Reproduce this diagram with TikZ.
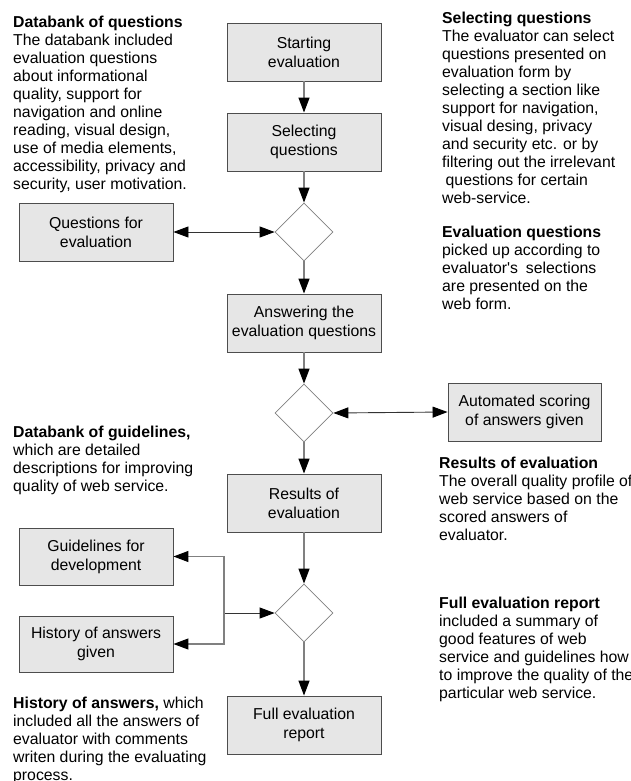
\documentclass[tikz,border=0pt]{standalone}
\usepackage{fontspec}
\setmainfont{Liberation Sans}[Ligatures=TeXOff]
\usetikzlibrary{shapes.geometric,arrows.meta}
\definecolor{boxfill}{HTML}{E6E6E6}
\definecolor{boxline}{HTML}{4D4D4D}
\definecolor{flowline}{HTML}{808080}
\tikzset{
  every node/.style={font=\fontsize{15.8}{19}\selectfont},
  procbox/.style={draw=boxline, line width=0.9pt, fill=boxfill, minimum width=154pt, minimum height=58pt, align=center, inner sep=0pt},
  decision/.style={diamond, draw=flowline, line width=0.8pt, fill=white, minimum width=58pt, minimum height=58pt, inner sep=0pt, aspect=1},
  note/.style={anchor=north west, align=left, inner sep=0pt, font=\fontsize{15.8}{18}\selectfont},
  flow/.style={draw=flowline, line width=1.3pt, ->},
  side/.style={draw=black!80, line width=0.9pt}
}
\begin{document}
\begin{tikzpicture}[x=1pt,y=-1pt,>={Triangle[length=15pt,width=11pt,color=black]}]
\useasboundingbox (0,0) rectangle (631,781);
% main column
\node[procbox] (start) at (304,52) {Starting\\evaluation};
\node[procbox] (select) at (304,142) {Selecting\\questions};
\node[decision] (d1) at (304,232) {};
\node[procbox] (answer) at (304,323) {Answering the\\evaluation questions};
\node[decision] (d2) at (304,413) {};
\node[procbox] (results) at (304,503) {Results of\\evaluation};
\node[decision] (d3) at (304,613) {};
\node[procbox] (full) at (304,725) {Full evaluation\\report};
% side boxes
\node[procbox] (qfe) at (96,232) {Questions for\\evaluation};
\node[procbox, minimum width=153pt] (auto) at (524.5,412) {Automated scoring\\of answers given};
\node[procbox, minimum height=57pt] (guide) at (96,556.5) {Guidelines for\\development};
\node[procbox, minimum height=56pt] (hist) at (96,644) {History of answers\\given};
% flow arrows
\draw[flow] (start) -- (select);
\draw[flow] (select) -- (d1);
\draw[flow] (d1) -- (answer);
\draw[flow] (answer) -- (d2);
\draw[flow] (d2) -- (results);
\draw[flow] (results) -- (d3);
\draw[flow] (d3) -- (full);
% side connectors
\draw[side, <->] (qfe.east) -- (d1.west);
\draw[side, <->] (d2.east) -- (auto.west);
\coordinate (junc) at (224,613);
\draw[side, ->] (junc) -- (d3.west);
\draw[draw=flowline, line width=1.1pt, ->] (junc) |- (guide.east);
\draw[draw=flowline, line width=1.1pt, ->] (junc) |- (hist.east);
% notes
\node[note] (n1) at (13,16) {\textbf{Databank of questions}\\The databank included\\evaluation questions\\about informational\\quality, support for\\navigation and online\\reading, visual design,\\use of media elements,\\accessibility, privacy and\\security, user motivation.};
\node[note] (n2) at (442,12) {\textbf{Selecting questions}\\The evaluator can select\\questions presented on\\evaluation form by\\selecting a section like\\support for navigation,\\visual desing, privacy\\and security etc. or by\\filtering out the irrelevant\\\hspace{3.5pt}questions for certain\\web-service.};
\node[note] (n3) at (442,226) {\textbf{Evaluation questions}\\picked up according to\\evaluator's\hspace{3.5pt} selections\\are presented on the\\web form.};
\node[note] (n4) at (13,426) {\textbf{Databank of guidelines,}\\which are detailed\\descriptions for improving\\quality of web service.};
\node[note] (n5) at (439,457) {\textbf{Results of evaluation}\\The overall quality profile of\\web service based on the\\scored answers of\\evaluator.};
\node[note] (n6) at (439,597) {\textbf{Full evaluation report}\\included a summary of\\good features of web\\service and guidelines how\\to improve the quality of the\\particular web service.};
\node[note] (n7) at (13,697) {\textbf{History of answers,} which\\included all the answers of\\evaluator with comments\\writen during the evaluating\\process.};
\end{tikzpicture}
\end{document}
